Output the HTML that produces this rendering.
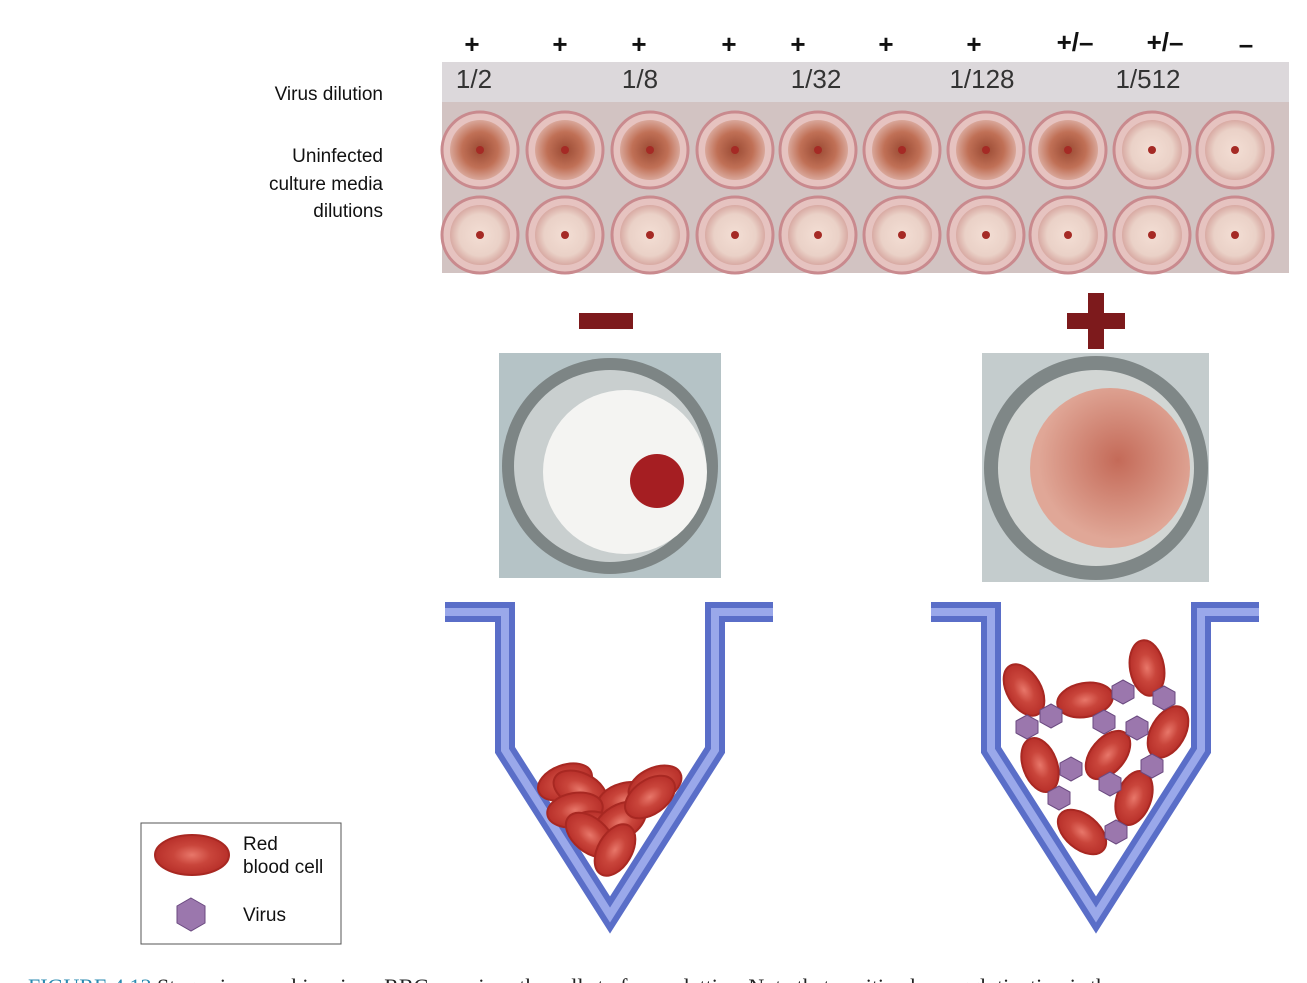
<!DOCTYPE html>
<html><head><meta charset="utf-8"><style>
body{margin:0;background:#fff;width:1307px;height:983px;overflow:hidden;font-family:"Liberation Sans",sans-serif}
svg{position:absolute;left:0;top:0}
</style></head><body>
<svg width="1307" height="983" viewBox="0 0 1307 983">
<defs>
<radialGradient id="wellPos" cx="50%" cy="50%" r="50%"><stop offset="0" stop-color="#9a4a33"/><stop offset="0.6" stop-color="#c07056"/><stop offset="1" stop-color="#d9a79a"/></radialGradient>
<radialGradient id="wellNeg" cx="50%" cy="50%" r="50%"><stop offset="0" stop-color="#f3ded4"/><stop offset="0.7" stop-color="#ead1c7"/><stop offset="1" stop-color="#d8aaa3"/></radialGradient>
<radialGradient id="blob" cx="55%" cy="45%" r="50%"><stop offset="0" stop-color="#c46a58"/><stop offset="1" stop-color="#e0a797"/></radialGradient>
<radialGradient id="rbc" cx="50%" cy="50%" r="50%"><stop offset="0" stop-color="#e8776a"/><stop offset="0.5" stop-color="#c9453b"/><stop offset="1" stop-color="#b8302a"/></radialGradient>
</defs>
<g font-size="26" font-weight="bold" text-anchor="middle" fill="#111">
<text x="472" y="53">+</text><text x="560" y="53">+</text><text x="639" y="53">+</text><text x="729" y="53">+</text><text x="798" y="53">+</text><text x="886" y="53">+</text><text x="974" y="53">+</text><text x="1075" y="51">+/–</text><text x="1165" y="51">+/–</text><text x="1246" y="53">–</text>
</g>
<g font-size="19" fill="#111" text-anchor="end">
<text x="383" y="100">Virus dilution</text>
<text x="383" y="162">Uninfected</text><text x="383" y="190">culture media</text><text x="383" y="217">dilutions</text>
</g>
<rect x="442" y="62" width="847" height="211" fill="#d2c3c2"/>
<rect x="442" y="62" width="847" height="40" fill="#dcd8db"/>
<g font-size="26" fill="#333" text-anchor="middle">
<text x="474" y="88">1/2</text><text x="640" y="88">1/8</text><text x="816" y="88">1/32</text><text x="982" y="88">1/128</text><text x="1148" y="88">1/512</text>
</g>
<g id="wells"></g>
<rect x="579" y="313" width="54" height="16" fill="#7d1a1c"/>
<g fill="#7d1a1c"><rect x="1067" y="313" width="58" height="16"/><rect x="1088" y="293" width="16" height="56"/></g>
<g>
<rect x="499" y="353" width="222" height="225" fill="#b5c3c6"/>
<circle cx="610" cy="466" r="108" fill="#7d8585"/><circle cx="610" cy="466" r="96" fill="#c9cfcf"/>
<circle cx="625" cy="472" r="82" fill="#f4f4f2"/><circle cx="657" cy="481" r="27" fill="#a51e22"/>
</g>
<g>
<rect x="982" y="353" width="227" height="229" fill="#c4cccd"/>
<circle cx="1096" cy="468" r="112" fill="#7f8787"/><circle cx="1096" cy="468" r="98" fill="#d2d6d4"/>
<circle cx="1110" cy="468" r="80" fill="url(#blob)"/>
</g>
<g fill="none">
<path d="M445 612H505V750L610 915L715 750V612H773" stroke="#5a6ec8" stroke-width="20"/>
<path d="M445 612H505V750L610 915L715 750V612H773" stroke="#9aa8ea" stroke-width="8"/>
<path d="M931 612H991V750L1096 915L1201 750V612H1259" stroke="#5a6ec8" stroke-width="20"/>
<path d="M931 612H991V750L1096 915L1201 750V612H1259" stroke="#9aa8ea" stroke-width="8"/>
</g>
<g id="cells"></g>
<rect x="141" y="823" width="200" height="121" fill="#fff" stroke="#555"/>
<ellipse cx="192" cy="855" rx="37" ry="20" fill="url(#rbc)" stroke="#a82822" stroke-width="2"/>
<polygon points="191,898 205,906 205,923 191,931 177,923 177,906" fill="#9b77ad" stroke="#6b4a80"/>
<g font-size="19" fill="#111">
<text x="243" y="850">Red</text><text x="243" y="873">blood cell</text><text x="243" y="921">Virus</text>
</g>
<text x="28" y="994" font-size="22" fill="#2a8ab0" font-family="Liberation Serif,serif">FIGURE 4.13   <tspan fill="#222">Stages in aerophic, virus–RBC — mixes the cells to form a lattice. Note that positive hemagglutination is the</tspan></text>
</svg>
<script>
var ns='http://www.w3.org/2000/svg';
var wellX=[480,565,650,735,818,902,986,1068,1152,1235];
var topPos=[1,1,1,1,1,1,1,0.6,0.4,0];
var wg=document.getElementById('wells');
function c(tag,a,p){var e=document.createElementNS(ns,tag);for(var k in a)e.setAttribute(k,a[k]);p.appendChild(e);return e;}
wellX.forEach(function(x,i){
 [150,235].forEach(function(y,r){
  var pos=r===0?topPos[i]:0;
  var e=c('circle',{cx:x,cy:y,r:38,fill:'#e6c3c0',stroke:'#c98a8e','stroke-width':3},wg);
  
  
  c('circle',{cx:x,cy:y,r:30,fill:pos>0.5?'url(#wellPos)':'url(#wellNeg)'},wg);
  c('circle',{cx:x,cy:y,r:4,fill:'#a52a25'},wg);
 });
});
var cg=document.getElementById('cells');
var rbcL=[[565,782,-20],[580,790,25],[625,800,-15],[655,785,-25],[575,810,-10],[600,830,20],[620,822,-30],[590,835,40],[615,850,-60],[650,797,-35]];
var rbcR=[[1024,690,60],[1085,700,-10],[1147,668,80],[1168,732,-60],[1040,765,70],[1108,755,-50],[1134,798,-70],[1082,832,40]];
var vir=[[1027,727],[1051,716],[1123,692],[1164,698],[1104,722],[1137,728],[1071,769],[1152,766],[1110,784],[1059,798],[1116,832]];
rbcL.concat(rbcR).forEach(function(d){
 var e=c('ellipse',{cx:d[0],cy:d[1],rx:28,ry:17,fill:'url(#rbc)',stroke:'#a82822','stroke-width':2,transform:'rotate('+d[2]+' '+d[0]+' '+d[1]+')'},cg);
 
 
});
vir.forEach(function(d){
 var x=d[0],y=d[1];
 var e=c('polygon',{points:[x,y-12,x+11,y-6,x+11,y+6,x,y+12,x-11,y+6,x-11,y-6].join(','),fill:'#9b77ad',stroke:'#6b4a80'},cg);
 
 
});
</script>
</body></html>
